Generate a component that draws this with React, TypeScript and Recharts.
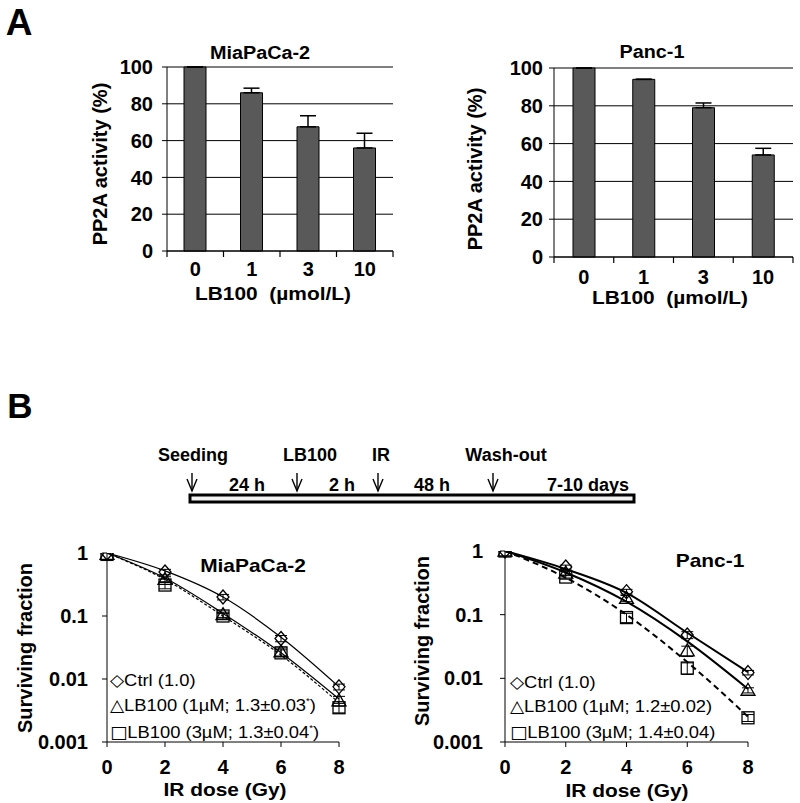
import React from 'react';
import {
  BarChart,
  Bar,
  ComposedChart,
  Line,
  XAxis,
  YAxis,
  CartesianGrid,
  ErrorBar,
} from 'recharts';

// ---- panel A data ----
const lb100Doses = ['0', '1', '3', '10'];
const miaActivity = [100, 86, 67.5, 56];
const miaActivityErr = [0, 2.5, 6, 8];
const pancActivity = [100, 94, 79, 54];
const pancActivityErr = [0, 0, 2.5, 3.5];

// ---- panel B data ----
const irDoses = [0, 2, 4, 6, 8];
const miaCtrl = [1, 0.5, 0.2, 0.044, 0.0075];
const miaCtrlErr = [0, 0.05, 0.02, 0.005, 0.0008];
const miaLb1 = [0.95, 0.38, 0.105, 0.027, 0.0045];
const miaLb1Err = [0, 0.04, 0.01, 0.004, 0.0008];
const miaLb3 = [0.95, 0.31, 0.1, 0.026, 0.0035];
const miaLb3Err = [0, 0.04, 0.01, 0.003, 0.0006];
const miaCtrlFit = [1, 0.52, 0.2, 0.046, 0.0075];
const miaLb1Fit = [1, 0.4, 0.11, 0.026, 0.0048];
const miaLb3Fit = [1, 0.38, 0.1, 0.024, 0.0042];

const pancCtrl = [1, 0.56, 0.23, 0.048, 0.0123];
const pancCtrlErr = [0, 0.04, 0.02, 0.006, 0.001];
const pancLb1 = [1, 0.45, 0.18, 0.027, 0.0065];
const pancLb1Err = [0, 0.04, 0.02, 0.005, 0.0006];
const pancLb3 = [1, 0.39, 0.09, 0.0145, 0.0024];
const pancLb3Err = [0, 0.03, 0.015, 0.003, 0.0003];
const pancCtrlFit = [1, 0.52, 0.22, 0.052, 0.0125];
const pancLb1Fit = [1, 0.46, 0.16, 0.038, 0.0068];
const pancLb3Fit = [1, 0.38, 0.1, 0.018, 0.0025];

const miaLegend = ['Ctrl (1.0)', 'LB100 (1µM; 1.3±0.03', 'LB100 (3µM; 1.3±0.04'];
const pancLegend = ['Ctrl (1.0)', 'LB100 (1µM; 1.2±0.02)', 'LB100 (3µM; 1.4±0.04)'];

// ---- timeline ----
const timelineEvents = ['Seeding', 'LB100', 'IR', 'Wash-out'];
const timelineEventX = [192, 297, 378, 493];
const timelineEventLabelX = [193, 310, 381, 506];
const timelineIntervals = ['24 h', '2 h', '48 h', '7-10 days'];
const timelineIntervalX = [247, 342, 432, 588];

const FONT = "'Liberation Sans', Arial, Helvetica, sans-serif";
const boldTick = { fontSize: 20, fontWeight: 700, fill: '#000', fontFamily: FONT };

function Txt({ x, y, children, size = 19, bold = true, rotate = false, sx = 1.1 }: any) {
  return (
    <div
      style={{
        position: 'absolute',
        left: x,
        top: y,
        transform: `translate(-50%, -50%)${rotate ? ' rotate(-90deg)' : ` scaleX(${sx})`}`,
        fontFamily: FONT,
        fontSize: size,
        fontWeight: bold ? 700 : 400,
        whiteSpace: 'nowrap',
        lineHeight: 1,
        color: '#000',
      }}
    >
      {children}
    </div>
  );
}

function ActivityBars({ values, errs, left, top, margin, tickGap, border }: any) {
  const data = lb100Doses.map((d, i) => ({ dose: d, value: values[i], err: [0, errs[i]] }));
  const plotW = 400 - margin.left - margin.right - 60;
  const band = plotW / lb100Doses.length;
  const axisY = 280 - margin.bottom - 30;
  return (
    <div style={{ position: 'absolute', left, top }}>
      <BarChart width={400} height={280} data={data} margin={margin}>
        <CartesianGrid vertical={false} stroke="#000" strokeWidth={1} />
        <XAxis
          dataKey="dose"
          tickLine={false}
          axisLine={{ stroke: '#000' }}
          tick={(p: any) => (
            // label in the middle, small marks on the category boundaries
            <g key={`bt${p.index}`}>
              <text x={p.x} y={p.y} dy="0.71em" textAnchor="middle" {...boldTick}>
                {p.payload.value}
              </text>
              <line x1={p.x + band / 2} x2={p.x + band / 2} y1={axisY} y2={axisY + 6} stroke="#000" strokeWidth={1.2} />
              {p.index === 0 ? (
                <line x1={p.x - band / 2} x2={p.x - band / 2} y1={axisY} y2={axisY + 6} stroke="#000" strokeWidth={1.2} />
              ) : null}
            </g>
          )}
          tickSize={5}
          tickMargin={tickGap}
          height={30}
        />
        <YAxis
          domain={[0, 100]}
          ticks={[0, 20, 40, 60, 80, 100]}
          tick={boldTick}
          tickSize={5}
          tickMargin={border ? 6 : 9}
          axisLine={{ stroke: '#000' }}
          tickLine={{ stroke: '#000' }}
          width={60}
        />
        <YAxis
          yAxisId="r"
          orientation="right"
          width={0}
          tick={false}
          tickLine={false}
          axisLine={{ stroke: border || '#000' }}
        />
        <Bar
          dataKey="value"
          fill="#595959"
          stroke="#000"
          strokeWidth={1}
          barSize={22}
          isAnimationActive={false}
        >
          <ErrorBar dataKey="err" width={8} stroke="#000" strokeWidth={1.5} />
        </Bar>
      </BarChart>
    </div>
  );
}

const mk = { fill: 'none', stroke: '#000', strokeWidth: 1.3 };
function Diamond(p: any) {
  const { cx, cy, index } = p;
  if (cx == null || cy == null) return <g key={`d${index}`} />;
  return <path key={`d${index}`} d={`M${cx},${cy - 7}L${cx + 6},${cy}L${cx},${cy + 7}L${cx - 6},${cy}Z`} {...mk} />;
}
function Triangle(p: any) {
  const { cx, cy, index } = p;
  if (cx == null || cy == null) return <g key={`t${index}`} />;
  return <path key={`t${index}`} d={`M${cx},${cy - 7}L${cx + 7},${cy + 5}L${cx - 7},${cy + 5}Z`} {...mk} />;
}
function Square(p: any) {
  const { cx, cy, index } = p;
  if (cx == null || cy == null) return <g key={`s${index}`} />;
  return <rect key={`s${index}`} x={cx - 6} y={cy - 6} width={12} height={12} {...mk} />;
}

function SurvivalChart({ s, left, top, margin, yGap, xGap, lineW, dash }: any) {
  const data = irDoses.map((d, i) => ({
    dose: d,
    ctrl: s.ctrl[i],
    ctrlErr: s.ctrlErr[i],
    lb1: s.lb1[i],
    lb1Err: s.lb1Err[i],
    lb3: s.lb3[i],
    lb3Err: s.lb3Err[i],
    ctrlFit: s.ctrlFit[i],
    lb1Fit: s.lb1Fit[i],
    lb3Fit: s.lb3Fit[i],
  }));
  return (
    <div style={{ position: 'absolute', left, top }}>
      <ComposedChart width={400} height={283} data={data} margin={margin}>
        <XAxis
          dataKey="dose"
          type="number"
          domain={[0, 8]}
          ticks={[0, 2, 4, 6, 8]}
          tick={boldTick}
          tickSize={5}
          tickMargin={xGap}
          axisLine={{ stroke: '#000' }}
          tickLine={{ stroke: '#000' }}
          height={30}
        />
        <YAxis
          scale="log"
          domain={[0.001, 1]}
          ticks={[0.001, 0.01, 0.1, 1]}
          allowDataOverflow
          tickFormatter={(v: number) => String(v)}
          tick={boldTick}
          tickSize={5}
          tickMargin={yGap}
          axisLine={{ stroke: '#000' }}
          tickLine={{ stroke: '#000' }}
          width={60}
        />
        <Line type="monotone" dataKey="ctrlFit" stroke="#000" strokeWidth={lineW} dot={false} isAnimationActive={false} />
        <Line type="monotone" dataKey="lb1Fit" stroke="#000" strokeWidth={lineW} dot={false} isAnimationActive={false} />
        <Line type="monotone" dataKey="lb3Fit" stroke="#000" strokeWidth={lineW} strokeDasharray={dash} dot={false} isAnimationActive={false} />
        <Line dataKey="ctrl" stroke="none" dot={Diamond} activeDot={false} isAnimationActive={false}>
          <ErrorBar dataKey="ctrlErr" width={6} stroke="#000" strokeWidth={1} />
        </Line>
        <Line dataKey="lb1" stroke="none" dot={Triangle} activeDot={false} isAnimationActive={false}>
          <ErrorBar dataKey="lb1Err" width={6} stroke="#000" strokeWidth={1} />
        </Line>
        <Line dataKey="lb3" stroke="none" dot={Square} activeDot={false} isAnimationActive={false}>
          <ErrorBar dataKey="lb3Err" width={6} stroke="#000" strokeWidth={1} />
        </Line>
      </ComposedChart>
    </div>
  );
}

function LegendBlock({ x, ys, labels, star }: any) {
  const symbols = ['\u25C7\uFE0E', '\u25B3\uFE0E', '\u25A1\uFE0E'];
  return (
    <>
      {labels.map((l: string, i: number) => (
        <div
          key={l}
          style={{
            position: 'absolute',
            left: x,
            top: ys[i],
            transform: 'translateY(-50%) scaleX(1.08)',
            transformOrigin: 'left center',
            fontFamily: FONT,
            fontSize: 17,
            whiteSpace: 'nowrap',
            lineHeight: 1,
            color: '#000',
          }}
        >
          <span style={{ fontFamily: "'DejaVu Sans', sans-serif", color: '#000' }}>{symbols[i]}</span>
          {l}
          {star && i > 0 ? (
            <>
              <sup style={{ fontSize: 9 }}>*</sup>)
            </>
          ) : null}
        </div>
      ))}
    </>
  );
}

function Timeline() {
  return (
    <svg width={800} height={803} style={{ position: 'absolute', left: 0, top: 0, pointerEvents: 'none' }}>
      <rect x={190} y={495} width={444} height={7} fill="#f2f2f2" stroke="#000" strokeWidth={3} />
      {timelineEventX.map((x, i) => (
        <g key={timelineEvents[i]}>
          <line x1={x} y1={473} x2={x} y2={491} stroke="#000" strokeWidth={1.4} />
          <path d={`M${x - 5},${479}L${x},${491}L${x + 5},${479}`} fill="none" stroke="#000" strokeWidth={1.4} />
        </g>
      ))}
      {timelineEvents.map((t, i) => (
        <text key={t} x={timelineEventLabelX[i]} y={461} textAnchor="middle" fontFamily={FONT} fontWeight={700} fontSize={18}>
          {t}
        </text>
      ))}
      {timelineIntervals.map((t, i) => (
        <text key={t} x={timelineIntervalX[i]} y={491} textAnchor="middle" fontFamily={FONT} fontWeight={700} fontSize={18}>
          {t}
        </text>
      ))}
    </svg>
  );
}

export default function App() {
  return (
    <div style={{ position: 'absolute', left: 0, top: 0, width: 800, height: 803, background: '#fff', overflow: 'hidden' }}>
      <Txt x={19} y={22} size={37} sx={1}>A</Txt>
      <Txt x={20} y={405} size={35} sx={1}>B</Txt>

      <ActivityBars values={miaActivity} errs={miaActivityErr} left={0} top={40}
        margin={{ top: 27, right: 7, left: 107, bottom: 39 }} tickGap={6} />
      <ActivityBars values={pancActivity} errs={pancActivityErr} left={400} top={40}
        margin={{ top: 28, right: 7, left: 94, bottom: 33 }} tickGap={8} border="#888" />

      <Txt x={260} y={53} size={18}>MiaPaCa-2</Txt>
      <Txt x={652} y={52} size={18}>Panc-1</Txt>
      <Txt x={100} y={164} size={20} rotate>PP2A activity (%)</Txt>
      <Txt x={475} y={169} size={20} rotate>PP2A activity (%)</Txt>
      <Txt x={273} y={293}>LB100&nbsp;&nbsp;(µmol/L)</Txt>
      <Txt x={670} y={297}>LB100&nbsp;&nbsp;(µmol/L)</Txt>

      <Timeline />

      <SurvivalChart
        s={{ ctrl: miaCtrl, ctrlErr: miaCtrlErr, lb1: miaLb1, lb1Err: miaLb1Err, lb3: miaLb3, lb3Err: miaLb3Err,
          ctrlFit: miaCtrlFit, lb1Fit: miaLb1Fit, lb3Fit: miaLb3Fit }}
        left={0} top={520} margin={{ top: 33, right: 61, left: 47, bottom: 31 }}
        yGap={14} xGap={13} lineW={1.2} dash="3 2" />
      <SurvivalChart
        s={{ ctrl: pancCtrl, ctrlErr: pancCtrlErr, lb1: pancLb1, lb1Err: pancLb1Err, lb3: pancLb3, lb3Err: pancLb3Err,
          ctrlFit: pancCtrlFit, lb1Fit: pancLb1Fit, lb3Fit: pancLb3Fit }}
        left={400} top={520} margin={{ top: 31, right: 52, left: 45, bottom: 31 }}
        yGap={17} xGap={13} lineW={2} dash="6 4" />

      <Txt x={253} y={565}>MiaPaCa-2</Txt>
      <Txt x={710} y={560}>Panc-1</Txt>
      <Txt x={25} y={648} size={20} rotate>Surviving fraction</Txt>
      <Txt x={422} y={641} size={20} rotate>Surviving fraction</Txt>
      <Txt x={225} y={789}>IR dose (Gy)</Txt>
      <Txt x={627} y={790}>IR dose (Gy)</Txt>

      <LegendBlock x={110} ys={[680, 705, 732]} labels={miaLegend} star />
      <LegendBlock x={510} ys={[682, 706, 732]} labels={pancLegend} />
    </div>
  );
}
